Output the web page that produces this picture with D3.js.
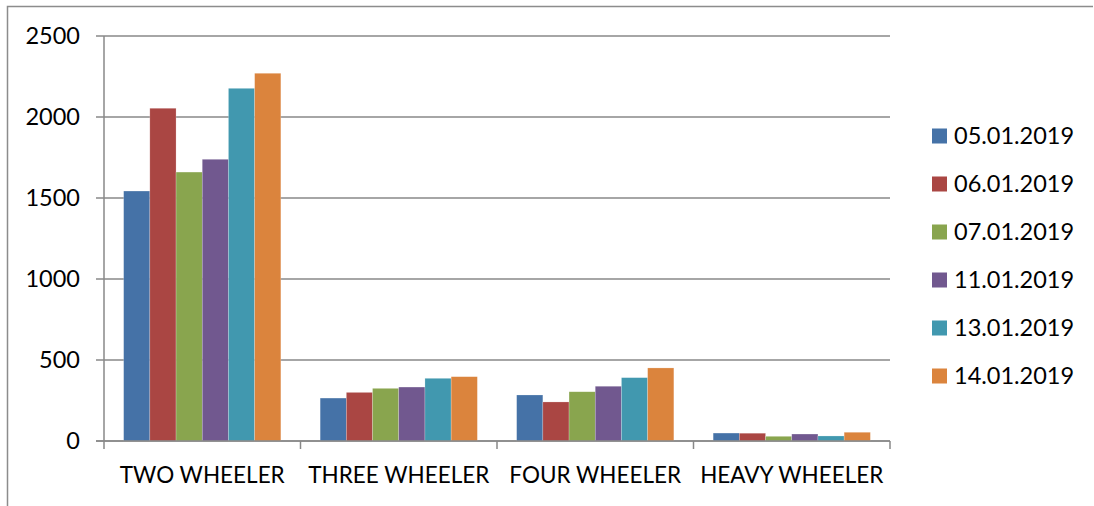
<!DOCTYPE html>
<html><head><meta charset="utf-8">
<script src="https://cdn.jsdelivr.net/npm/d3@7"></script>
<style>body{margin:0;background:#fff}svg{display:block}</style>
</head><body><svg id="c" width="1094" height="506"></svg>
<script>
const categories = ["TWO WHEELER","THREE WHEELER","FOUR WHEELER","HEAVY WHEELER"];
const seriesNames = ["05.01.2019","06.01.2019","07.01.2019","11.01.2019","13.01.2019","14.01.2019"];
const seriesColors = ["#4572A7","#AA4643","#89A54E","#71588F","#4198AF","#DB843D"];
const s0501 = [1543, 265, 284, 49];
const s0601 = [2054, 300, 241, 48];
const s0701 = [1660, 325, 304, 29];
const s1101 = [1739, 333, 338, 43];
const s1301 = [2177, 387, 391, 31];
const s1401 = [2270, 397, 451, 54];
const yTicks = [0, 500, 1000, 1500, 2000, 2500];

const series = [s0501, s0601, s0701, s1101, s1301, s1401];
const svg = d3.select("#c");
const font = "Lato, 'Carlito', sans-serif";
const gridColor = "#888888";

// outer frame (top and left only)
svg.append("path").attr("d","M7.5,506 V6.5 H1093").attr("fill","none").attr("stroke","#8c8c8c").attr("stroke-width",1.5);

const x0 = d3.scaleBand().domain(categories).range([104, 890]).paddingInner(0.2).paddingOuter(0.1);
const x1 = d3.scaleBand().domain(seriesNames).range([0, x0.bandwidth()]);
const y = d3.scaleLinear().domain([0, 2500]).range([441, 36]);

// gridlines
svg.append("g").selectAll("line").data(yTicks).join("line")
  .attr("x1", 96).attr("x2", 890)
  .attr("y1", d => y(d)).attr("y2", d => y(d))
  .attr("stroke", gridColor).attr("stroke-width", 1.5);

// y labels
svg.append("g").selectAll("text").data(yTicks).join("text")
  .attr("x", 80).attr("y", d => y(d)).attr("dy", "0.36em")
  .attr("text-anchor", "end").attr("font-family", font).attr("font-size", 23.5)
  .attr("fill", "#000").text(d => d);

// bars
const g = svg.append("g");
categories.forEach((c, ci) => {
  g.append("g").selectAll("rect").data(series.map((s, si) => ({v: s[ci], name: seriesNames[si], col: seriesColors[si]}))).join("rect")
    .attr("x", d => x0(c) + x1(d.name))
    .attr("y", d => y(d.v))
    .attr("width", x1.bandwidth())
    .attr("height", d => y(0) - y(d.v))
    .attr("fill", d => d.col)
    .attr("stroke", "#fff").attr("stroke-opacity", 0.35).attr("stroke-width", 0.6);
});

// y axis line
svg.append("line").attr("x1",104).attr("x2",104).attr("y1",36).attr("y2",441).attr("stroke",gridColor).attr("stroke-width",1.5);
// x axis line & ticks
svg.append("line").attr("x1",96).attr("x2",890).attr("y1",441).attr("y2",441).attr("stroke",gridColor).attr("stroke-width",1.5);
const bounds = categories.map(c => x0(c) - x0.step()*0.1).concat([890]);
svg.append("g").selectAll("line").data(bounds).join("line")
  .attr("x1", d => d).attr("x2", d => d).attr("y1", 441).attr("y2", 449)
  .attr("stroke", gridColor).attr("stroke-width", 1.5);

// x labels
svg.append("g").selectAll("text").data(categories).join("text")
  .attr("x", d => x0(d) + x0.bandwidth()/2).attr("y", 483)
  .attr("text-anchor", "middle").attr("font-family", font).attr("font-size", 22.5)
  .attr("fill", "#000").text(d => d);

// legend
const lg = svg.append("g").selectAll("g").data(seriesNames).join("g")
  .attr("transform", (d, i) => `translate(932, ${136 + i*48})`);
lg.append("rect").attr("x", 0).attr("y", -7.5).attr("width", 15).attr("height", 15)
  .attr("fill", (d, i) => seriesColors[i]);
lg.append("text").attr("x", 22).attr("y", 0).attr("dy", "0.36em")
  .attr("font-family", font).attr("font-size", 23.5).attr("fill", "#000").text(d => d);
</script></body></html>
